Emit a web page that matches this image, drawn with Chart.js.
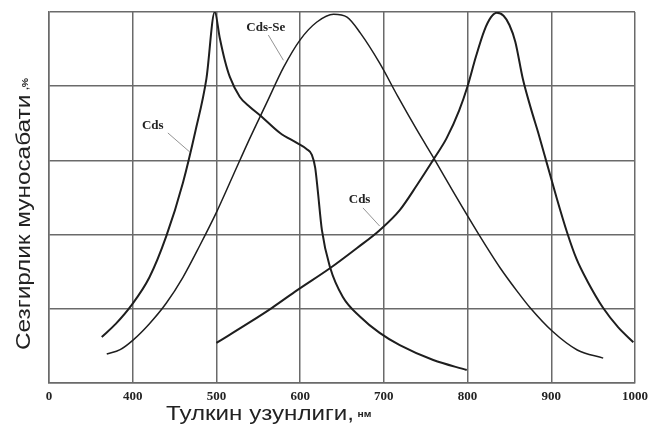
<!DOCTYPE html>
<html>
<head>
<meta charset="utf-8">
<script src="https://cdn.jsdelivr.net/npm/chart.js@4"></script>
<style>
  html, body { margin: 0; padding: 0; background: #ffffff; }
  #wrap { width: 656px; height: 427px; }
</style>
</head>
<body>
<div id="wrap"><canvas id="c" width="656" height="427"></canvas></div>
<script>
// ---- data (wavelength in nm, relative sensitivity in %) ----
const cdsLeftX  = [363, 380, 397, 420, 440, 460, 475, 488, 498, 504, 510, 516, 528, 540, 552, 576, 596, 608, 614, 618, 621, 626, 636, 651, 672, 695, 719, 759, 799];
const cdsLeftY  = [12.4, 16, 20.5, 28.5, 39.5, 54, 68, 82, 100, 93, 87, 82.5, 77.1, 74.4, 72.2, 67.4, 64.7, 63, 61.5, 58, 52, 41.2, 31, 23.2, 17.8, 13.5, 10.2, 6.2, 3.5];

const cdsSeX    = [369, 385, 400, 420, 440, 460, 480, 500, 520, 540, 560, 580, 600, 620, 640, 656, 672, 695, 717, 740, 761, 783, 813, 839, 860, 875, 901, 931, 962];
const cdsSeY    = [7.8, 9, 11.5, 16, 21.5, 28.5, 37, 46, 56, 66, 75.5, 85, 92.5, 97.3, 99.4, 98.6, 94.3, 86.2, 77.1, 68, 60.1, 51.5, 40.2, 31, 24.5, 20.2, 14, 8.9, 6.7];

const cdsRightX = [500, 540, 566, 597, 636, 668, 695, 719, 740, 760, 775, 790, 800, 810, 820, 828, 835, 843, 850, 857, 866, 875, 885, 895, 905, 919, 930, 943, 962, 980, 998];
const cdsRightY = [10.8, 16.4, 20.2, 25.1, 31, 36.4, 41.2, 46.6, 53.5, 60.5, 66, 73.5, 80, 88, 95, 98.6, 99.8, 99, 96.5, 92, 82, 74.5, 67, 59, 51, 40.5, 33.5, 27.5, 20.2, 15, 11];

const seriesNames = ['Cds', 'Cds-Se', 'Cds'];
// x tick values; the first one is drawn as "0" (broken axis)
const xTickValues = [300, 400, 500, 600, 700, 800, 900, 1000];
const xTickLabels = ['0', '400', '500', '600', '700', '800', '900', '1000'];

const xTitle = 'Тулкин узунлиги,';
const xUnit = 'нм';
const yTitle = 'Сезгирлик муносабати';
const yUnit = ',%';

// ---- helpers ----
function pts(xs, ys) { return xs.map((x, i) => ({ x: x, y: ys[i] })); }

// label annotations (data coordinates): text, anchor, leader-line start and end
const notes = [
  { text: seriesNames[0], at: [424, 69.5], from: [442, 67.4], to: [468, 62.3] },
  { text: seriesNames[1], at: [559, 95.7], from: [562, 93.8], to: [580, 87.0] },
  { text: seriesNames[2], at: [671, 49.3], from: [675, 47.2], to: [695, 42.3] }
];

const decor = {
  id: 'decor',
  afterDatasetsDraw(chart) {
    const ctx = chart.ctx, xs = chart.scales.x, ys = chart.scales.y;
    ctx.save();
    // annotations
    ctx.font = 'bold 13px "Liberation Serif", serif';
    ctx.textAlign = 'center';
    ctx.textBaseline = 'middle';
    notes.forEach(n => {
      ctx.fillStyle = '#222';
      ctx.fillText(n.text, xs.getPixelForValue(n.at[0]), ys.getPixelForValue(n.at[1]));
      ctx.strokeStyle = '#777';
      ctx.lineWidth = 0.8;
      ctx.beginPath();
      ctx.moveTo(xs.getPixelForValue(n.from[0]), ys.getPixelForValue(n.from[1]));
      ctx.lineTo(xs.getPixelForValue(n.to[0]), ys.getPixelForValue(n.to[1]));
      ctx.stroke();
    });
    // x title
    ctx.fillStyle = '#222';
    ctx.textAlign = 'left';
    ctx.textBaseline = 'alphabetic';
    ctx.save();
    ctx.translate(166, 420);
    ctx.scale(1.15, 1);
    ctx.font = '21px "Liberation Sans", Arial, sans-serif';
    ctx.fillText(xTitle, 0, 0);
    const w = ctx.measureText(xTitle).width;
    ctx.font = 'bold 9px "Liberation Sans", Arial, sans-serif';
    ctx.fillText(xUnit, w + 3, -3);
    ctx.restore();
    // y title
    ctx.save();
    ctx.translate(30, 350);
    ctx.rotate(-Math.PI / 2);
    ctx.scale(1.16, 1);
    ctx.font = '21px "Liberation Sans", Arial, sans-serif';
    ctx.fillText(yTitle, 0, 0);
    const w2 = ctx.measureText(yTitle).width;
    ctx.font = 'bold 9px "Liberation Sans", Arial, sans-serif';
    ctx.fillText(yUnit, w2 + 4, -2);
    ctx.restore();
    ctx.restore();
  }
};

const lineCommon = {
  borderColor: '#1e1e1e',
  pointRadius: 0,
  fill: false,
  cubicInterpolationMode: 'monotone'
};

new Chart(document.getElementById('c'), {
  type: 'line',
  data: {
    datasets: [
      Object.assign({ label: seriesNames[0], data: pts(cdsLeftX, cdsLeftY), borderWidth: 2 }, lineCommon),
      Object.assign({ label: seriesNames[1], data: pts(cdsSeX, cdsSeY), borderWidth: 1.5 }, lineCommon),
      Object.assign({ label: seriesNames[2], data: pts(cdsRightX, cdsRightY), borderWidth: 2 }, lineCommon)
    ]
  },
  options: {
    responsive: false,
    animation: false,
    layout: { padding: { left: 0, right: 21, top: 12, bottom: 0 } },
    plugins: { legend: { display: false }, tooltip: { enabled: false } },
    scales: {
      x: {
        type: 'linear',
        min: 300,
        max: 1000,
        afterBuildTicks: s => { s.ticks = xTickValues.map(v => ({ value: v })); },
        afterFit: s => { s.height = 44; },
        ticks: {
          padding: 6,
          color: '#222',
          font: { family: '"Liberation Serif", serif', size: 13, weight: 'bold' },
          maxRotation: 0,
          callback: v => xTickLabels[xTickValues.indexOf(v)]
        },
        grid: { color: '#6a6a6a', lineWidth: 1.5, drawTicks: false },
        border: { color: '#6a6a6a', width: 1.5 }
      },
      y: {
        min: 0,
        max: 100,
        afterFit: s => { s.width = 49; },
        ticks: { display: false, stepSize: 20 },
        grid: { color: '#6a6a6a', lineWidth: 1.5, drawTicks: false },
        border: { color: '#6a6a6a', width: 1.5 }
      }
    }
  },
  plugins: [decor]
});
</script>
</body>
</html>
